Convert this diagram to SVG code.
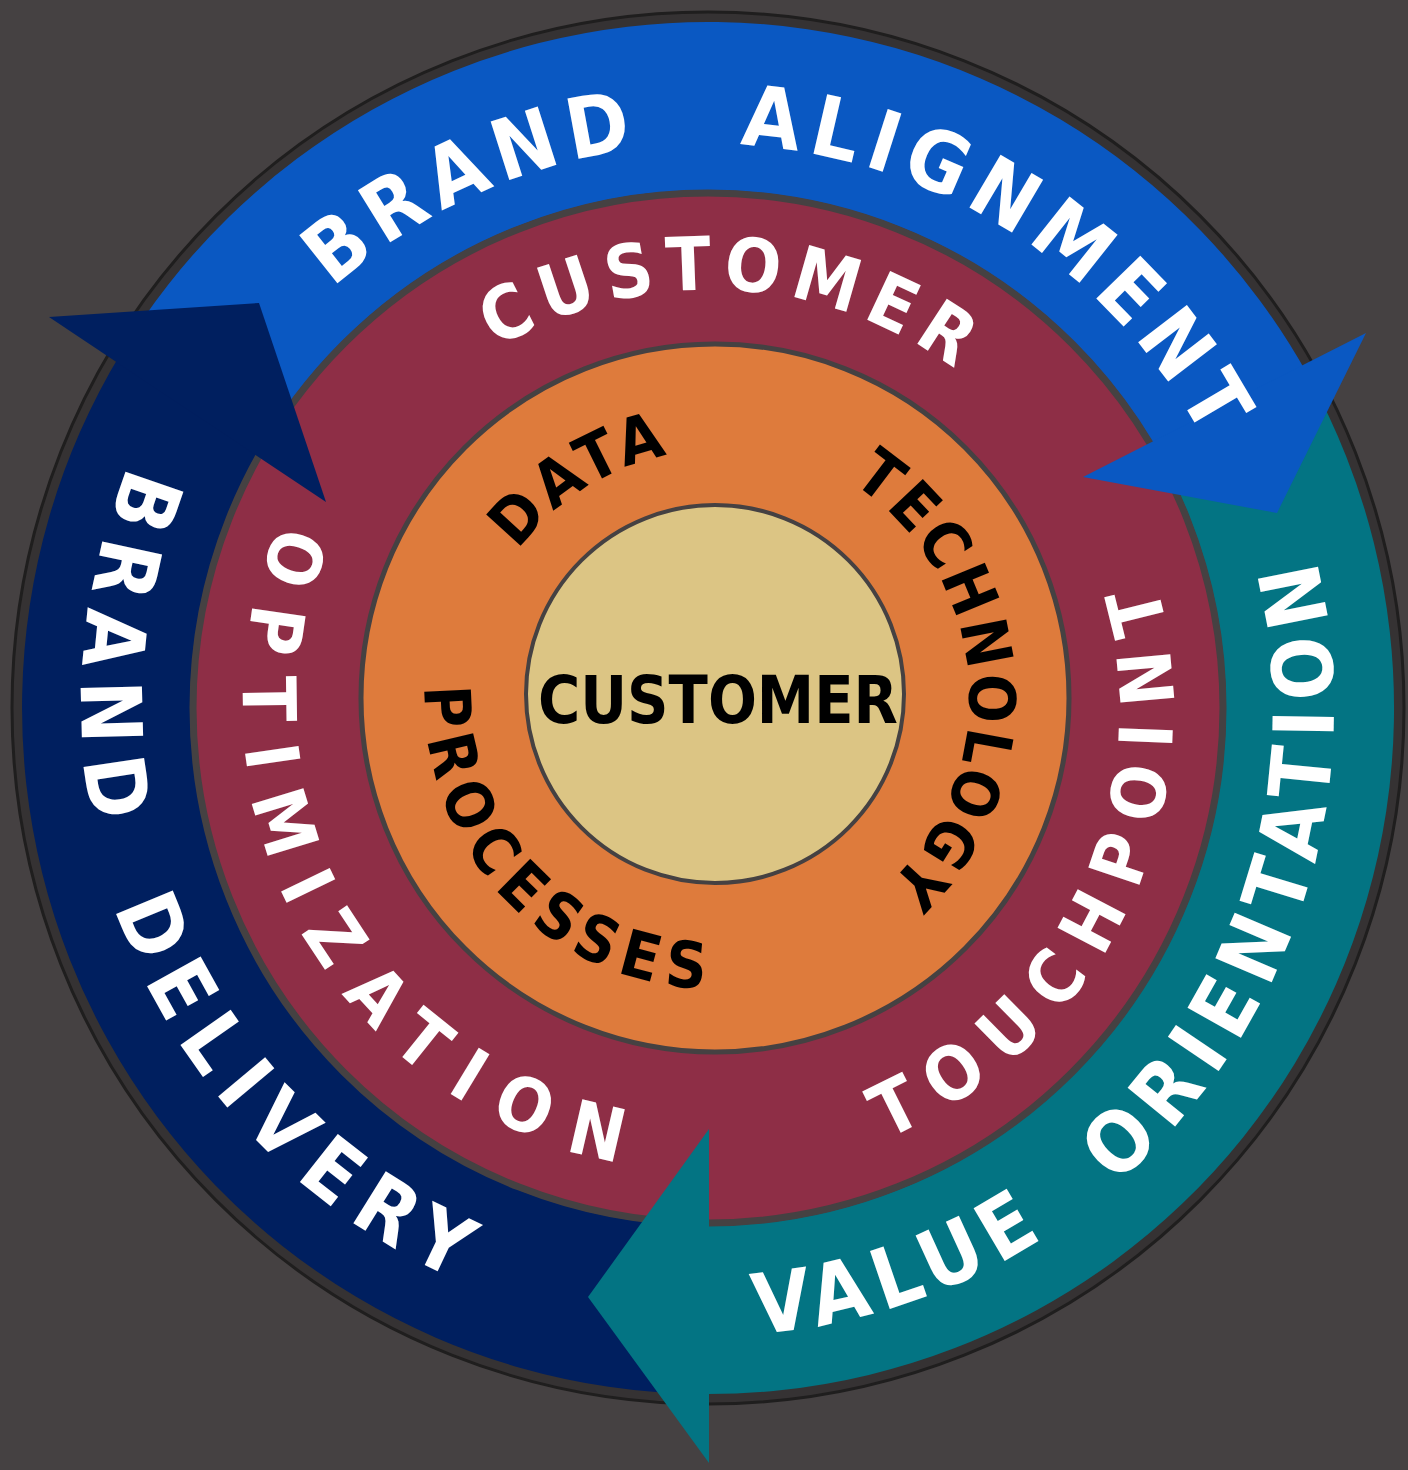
<svg xmlns="http://www.w3.org/2000/svg" xmlns:xlink="http://www.w3.org/1999/xlink" width="1408" height="1470" viewBox="0 0 1408 1470">
  <style>
    .lbl { font-family: "DejaVu Sans Condensed", "DejaVu Sans", sans-serif; font-weight: bold; font-stretch: condensed; }
    .outer { fill: #ffffff; font-size: 84px; }
    .mid { fill: #ffffff; font-size: 74px; }
    .inner { fill: #000000; font-size: 64px; }
    .ring { stroke: #454142; }
  </style>
  <defs>
    <!-- baselines for the curved labels -->
    <path id="p-align" d="M332.7,288.3 A563,563 0 0 1 1090.5,1121.1"/>
    <path id="p-value" d="M756.2,1334.1 A628,628 0 0 0 670.8,81.1"/>
    <path id="p-deliv" d="M128.7,465.6 A628,628 0 0 0 1283.0,960.4"/>
    <path id="p-cust" d="M496.4,348.7 A417,417 0 0 1 925.9,1063.6"/>
    <path id="p-optim" d="M279.7,524.4 A466,466 0 0 0 1133.0,899.0"/>
    <path id="p-touch" d="M885.6,1138.8 A466,466 0 0 0 538.0,274.1"/>
    <path id="p-data" d="M518.0,550.6 A246,246 0 0 1 914.5,841.9"/>
    <path id="p-tech" d="M851.0,482.3 A255,255 0 0 1 582.9,916.1"/>
    <path id="p-proc" d="M425.2,686.4 A290,290 0 0 0 1004.5,714.7"/>
  </defs>

  <rect width="1408" height="1470" fill="#454142"/>

  <!-- outer dark disc -->
  <circle cx="708" cy="708" r="696" fill="#353233" stroke="#1f1e1e" stroke-width="3"/>

  <!-- connectors: the three curved arrows -->
  <g id="connectors">
    <g id="shafts">
      <path id="shaft-alignment" fill="#0A58C2" d="M117.5,358.8 A686,686 0 0 1 1308.0,375.4 L1161.0,456.9 A518,518 0 0 0 262.1,444.3 Z"/>
      <path id="shaft-value" fill="#037483" d="M1308.0,375.4 A686,686 0 0 1 690.0,1393.8 L694.4,1225.8 A518,518 0 0 0 1161.0,456.9 Z"/>
      <path id="shaft-delivery" fill="#001F5F" d="M698.4,1393.9 A686,686 0 0 1 121.2,352.7 L264.9,439.7 A518,518 0 0 0 700.8,1225.9 Z"/>
    </g>
  </g>

  <!-- middle ring -->
  <g id="node-touchpoints">
    <circle class="ring" cx="708" cy="708" r="515" fill="#8E2E46" stroke-width="7"/>
  </g>

  <!-- arrowheads sit over the middle ring -->
  <g id="arrowheads">
    <polygon id="head-alignment" fill="#0A58C2" points="1366,333 1277,513 1083,477"/>
    <polygon id="head-value" fill="#037483" points="709,1129 588,1297 709,1463"/>
    <polygon id="head-delivery" fill="#001F5F" points="49,317 259,303 326,502"/>
  </g>

  <g id="node-enablers">
    <circle class="ring" cx="715" cy="698" r="354" fill="#DE7B3C" stroke-width="5"/>
  </g>

  <g id="node-customer">
    <circle class="ring" cx="715" cy="694" r="189" fill="#DCC584" stroke-width="4"/>
    <text class="lbl" x="718" y="723" font-size="65" text-anchor="middle" fill="#000" textLength="360" lengthAdjust="spacingAndGlyphs">CUSTOMER</text>
  </g>

  <!-- outer band labels -->
  <g id="labels-outer">
    <text class="lbl outer" letter-spacing="9"><textPath xlink:href="#p-align">BRAND <tspan dx="62">ALIGNMENT</tspan></textPath></text>
    <text class="lbl outer"><textPath xlink:href="#p-value"><tspan letter-spacing="9">VALUE </tspan><tspan dx="46" letter-spacing="12">ORIENTATION</tspan></textPath></text>
    <text class="lbl outer" letter-spacing="15.8"><textPath xlink:href="#p-deliv">BRAND <tspan dx="30">DELIVERY</tspan></textPath></text>
  </g>

  <!-- middle ring labels -->
  <g id="labels-mid">
    <text class="lbl mid" letter-spacing="10"><textPath xlink:href="#p-cust">CUSTOMER</textPath></text>
    <text class="lbl mid" letter-spacing="25.8"><textPath xlink:href="#p-optim">OPTIMIZATION</textPath></text>
    <text class="lbl mid" letter-spacing="20.3"><textPath xlink:href="#p-touch">TOUCHPOINT</textPath></text>
  </g>

  <!-- inner ring labels -->
  <g id="labels-inner">
    <text class="lbl inner" letter-spacing="5"><textPath xlink:href="#p-data">DATA</textPath></text>
    <text class="lbl inner" letter-spacing="3"><textPath xlink:href="#p-tech">TECHNOLOGY</textPath></text>
    <text class="lbl inner" letter-spacing="10"><textPath xlink:href="#p-proc">PROCESSES</textPath></text>
  </g>
</svg>
